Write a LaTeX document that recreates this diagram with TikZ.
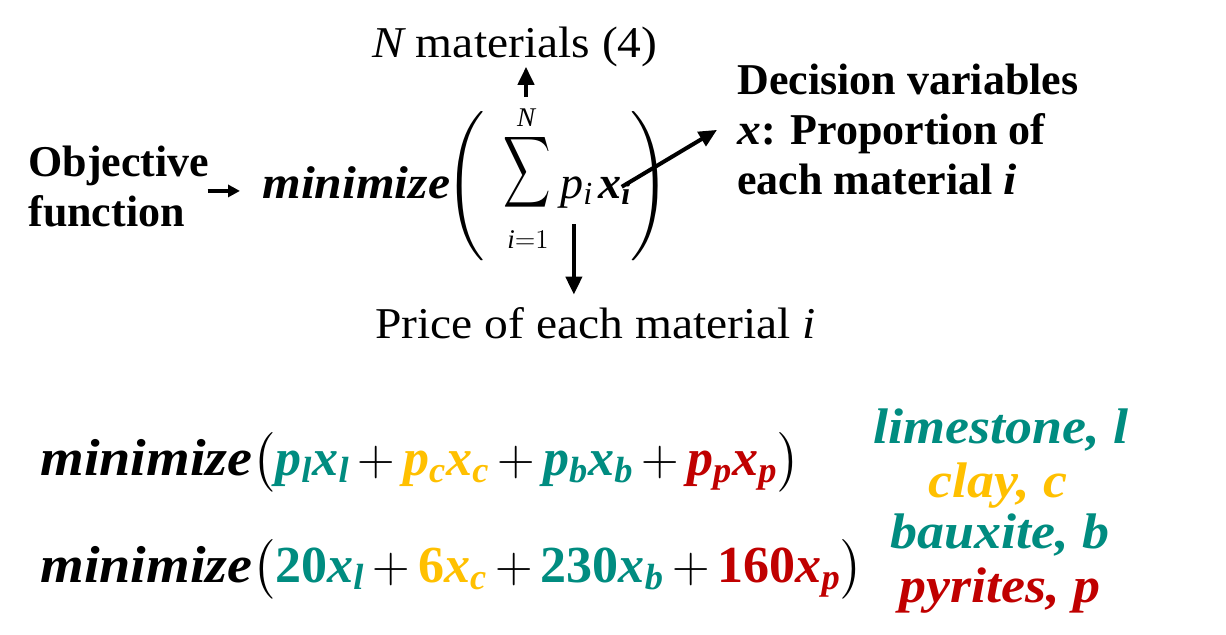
\RequirePackage{fix-cm}
\documentclass[tikz,border=0pt]{standalone}
\usepackage{amsmath}
\usepackage{graphicx}
\usepackage{fontspec}
\setmainfont{Liberation Serif}[FakeStretch=1.08,BoldFeatures={FakeStretch=1.0},BoldItalicFeatures={FakeStretch=1.08}]
\newfontfamily\lsfam{Liberation Serif}[NFSSFamily=lsr]
\DeclareMathAlphabet{\mathbi}{TU}{lsr}{bx}{it}
\DeclareMathAlphabet{\mathli}{TU}{lsr}{m}{it}
\DeclareMathAlphabet{\mathbu}{TU}{lsr}{bx}{n}
\usetikzlibrary{arrows.meta}
\definecolor{mteal}{RGB}{0,140,128}
\definecolor{mgold}{RGB}{255,192,0}
\definecolor{mred}{RGB}{192,0,0}
\newcommand{\mini}{\mbox{\bfseries\itshape minimize}}
\newcommand{\tightplus}{\medmuskip=2.8mu}
\tikzset{
  txt/.style={inner sep=0pt,font=\fontsize{22}{25}\selectfont},
  btxt/.style={inner sep=0pt,font=\fontsize{22}{25}\selectfont\bfseries},
  mtop/.style={inner sep=0pt,font=\fontsize{23}{27}\selectfont},
  msml/.style={inner sep=0pt,font=\fontsize{13.5}{16}\selectfont},
  mbot/.style={inner sep=0pt,font=\fontsize{26}{30}\selectfont},
  mlab/.style={inner sep=0pt,font=\fontsize{25}{30}\selectfont\bfseries\itshape},
  arr/.style={line width=2pt,-{Triangle[length=9pt,width=8pt]}},
  sarr/.style={line width=1.6pt,-{Triangle[length=6pt,width=6pt]}}
}
\begin{document}
\begin{tikzpicture}[x=0.5pt,y=-0.5pt]
\useasboundingbox[fill=white] (0,0) rectangle (1226,634);
% top labels
\node[txt,anchor=base west] (nmat) at (372,57) {\itshape N\upshape{} materials (4)};
\node[btxt,anchor=north west,align=left] (obj) at (28,146) {Objective\\function};
\node[mtop,anchor=base west,font=\fontsize{23}{27}\selectfont\bfseries\itshape] (min) at (262,198) {minimize};
\node[inner sep=0pt,font=\fontsize{25}{30}\selectfont] (sigma) at (527,172) {\scalebox{0.66}[1]{$\displaystyle\sum$}};
\node[msml] (supN) at (526,118) {$\mathli{N}$};
\node[msml] (lim) at (528,240) {$\mathli{i}{=}1$};
\node[mtop,anchor=base west] (pi) at (560,198) {$\mathli{p_i}$};
\node[mtop,anchor=base west] (xi) at (598,198) {$\mathbi{x_i}$};
\node[mtop] (lp) at (465,186) {$\Biggl($};
\node[mtop] (rp) at (650,186) {$\Biggr)$};
\node[txt,anchor=base west] (price) at (375,338) {Price of each material \itshape i};
\node[btxt,anchor=north west,align=left,inner xsep=10pt] (dec) at (717,64) {Decision variables\\\itshape x\upshape: Proportion of\\each material \itshape i};
% arrows
\draw[sarr,shorten <=-1pt,shorten >=11pt] ([yshift=-2pt]obj.east) -- ([yshift=-2pt]obj.east -| min.west);
\draw[arr] ([yshift=6pt]supN.north) -- (supN.north |- nmat.south);
\draw[arr,shorten <=8pt,shorten >=6pt] ([xshift=-1.5pt]pi.south) -- ([xshift=-1.5pt]pi.south |- price.north);
\draw[arr,shorten <=4pt] (xi.center) -- (dec.west);
% bottom equations
\node[mbot,anchor=base west] (eq1) at (40,475) {$\tightplus\mini\big(\color{mteal}\mathbi{p_l x_l}\color{black}+\color{mgold}\mathbi{p_c x_c}\color{black}+\color{mteal}\mathbi{p_b x_b}\color{black}+\color{mred}\mathbi{p_p x_p}\color{black}\big)$};
\node[mbot,anchor=base west] (eq2) at (40,582) {$\tightplus\mini\big(\color{mteal}\mathbu{20}\mathbi{x_l}\color{black}+\color{mgold}\mathbu{6}\mathbi{x_c}\color{black}+\color{mteal}\mathbu{230}\mathbi{x_b}\color{black}+\color{mred}\mathbu{160}\mathbi{x_p}\color{black}\big)$};
\node[mlab,anchor=base,text=mteal] (lime) at (1001,443) {limestone, l};
\node[mlab,anchor=base,text=mgold] (clay) at (998,497) {clay, c};
\node[mlab,anchor=base,text=mteal] (baux) at (1000,548) {bauxite, b};
\node[mlab,anchor=base,text=mred] (pyr) at (1000,602) {pyrites, p};
\end{tikzpicture}
\end{document}
